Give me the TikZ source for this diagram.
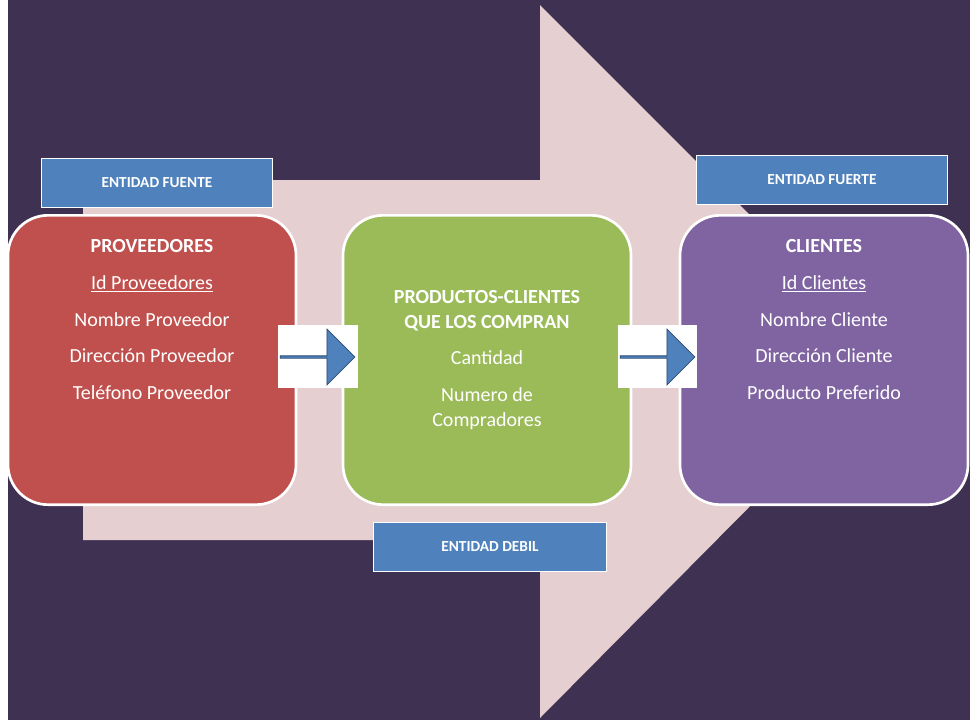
\documentclass[tikz,border=0pt]{standalone}
\usepackage{fontspec}
\setmainfont{Carlito}
\usetikzlibrary{shapes.arrows}
\definecolor{fondo}{HTML}{3F3151}
\definecolor{rosa}{HTML}{E6CFD1}
\definecolor{rojo}{HTML}{C0504D}
\definecolor{verde}{HTML}{9BBB59}
\definecolor{morado}{HTML}{8064A2}
\definecolor{azul}{HTML}{4F81BD}
\tikzset{
  entidad/.style={rounded corners=30pt, draw=white, line width=2pt,
    minimum width=216pt, minimum height=217pt, text=white, align=center,
    font=\fontsize{15}{27.5}\selectfont},
  etiqueta/.style={fill=azul, draw=white, line width=0.8pt, text=white,
    minimum height=37pt, font=\bfseries\fontsize{11.5}{13}\selectfont},
  flecha/.style={single arrow, fill=azul, draw=azul!60!black, line width=0.6pt,
    minimum width=42pt, minimum height=56pt, single arrow head extend=7pt,
    inner sep=0pt, outer sep=0pt}
}
\begin{document}
\begin{tikzpicture}[x=0.75pt,y=-0.75pt]
\useasboundingbox (0,0) rectangle (976,722);
\fill[white] (0,0) rectangle (976,722);
\fill[fondo] (8,0) rectangle (970,720);
\fill[rosa] (83,180) -- (540,180) -- (540,5) -- (895,360) -- (540,718)
  -- (540,540) -- (83,540) -- cycle;
\node[entidad, fill=rojo] (prov) at (152,360) {\textbf{PROVEEDORES}\\
  \underline{Id Proveedores}\\ Nombre Proveedor\\ Dirección Proveedor\\
  Teléfono Proveedor\\[2.2em]};
\node[entidad, fill=verde] (prod) at (487,360) {\textbf{PRODUCTOS-CLIENTES}\\[-9pt]
  \textbf{QUE LOS COMPRAN}\\ Cantidad\\ Numero de\\[-9pt] Compradores};
\node[entidad, fill=morado] (cli) at (824,360) {\textbf{CLIENTES}\\
  \underline{Id Clientes}\\ Nombre Cliente\\ Dirección Cliente\\
  Producto Preferido\\[2.2em]};
\node[etiqueta, minimum width=173pt] (fuente) at (157,183) {ENTIDAD FUENTE};
\node[etiqueta, minimum width=188pt] (fuerte) at (822,180) {ENTIDAD FUERTE};
\node[etiqueta, minimum width=175pt] (debil) at (490,547) {ENTIDAD DEBIL};
\fill[white] (278,325) rectangle (358,388);
\fill[white] (618,325) rectangle (697,388);
\node[flecha] (f1) at (317,357) {};
\node[flecha] (f2) at (657,357) {};
\end{tikzpicture}
\end{document}
